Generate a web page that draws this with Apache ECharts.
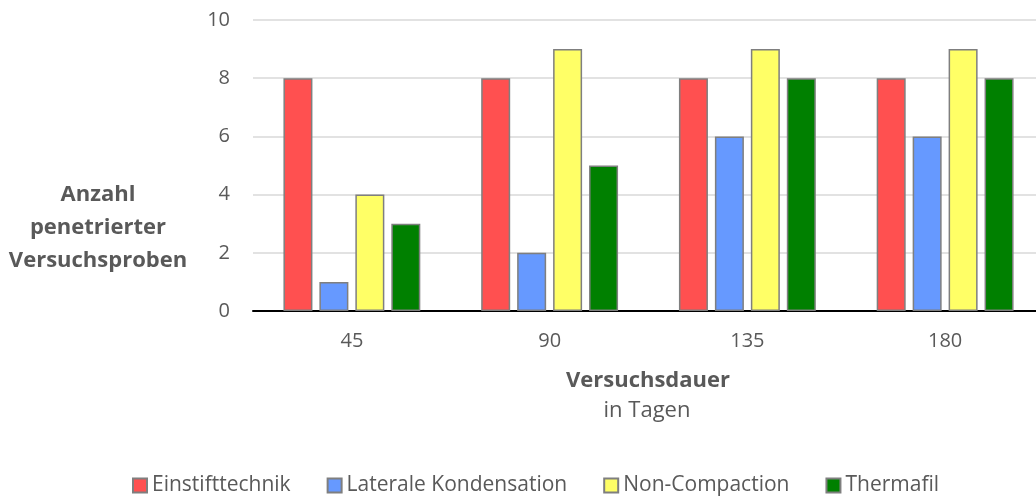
<!DOCTYPE html>
<html>
<head>
<meta charset="utf-8">
<script src="https://cdn.jsdelivr.net/npm/echarts@6/dist/echarts.min.js"></script>
<style>
  html, body { margin: 0; padding: 0; background: #fff; }
  #chart { width: 1036px; height: 496px; }
</style>
</head>
<body>
<div id="chart"></div>
<script>
// Daten aus dem Diagramm
const categories = ['45', '90', '135', '180']
const einstift = [8, 8, 8, 8]
const lateral = [1, 2, 6, 6]
const nonCompaction = [4, 9, 9, 9]
const thermafil = [3, 5, 8, 8]
const yTicks = [0, 2, 4, 6, 8, 10]

const font = '"Open Sans", "Liberation Sans", sans-serif'
const textColor = '#595959'

const barBase = {
  type: 'bar',
  barWidth: 29,
  barGap: '24%',
  itemStyle: { borderColor: '#7f7f7f', borderWidth: 1.5 },
}

const option = {
  backgroundColor: '#fff',
  animation: false,
  textStyle: { fontFamily: font },
  // Plotfläche ragt rechts etwas über den Rand hinaus
  grid: { left: 253, width: 791, top: 20, height: 291, outerBoundsMode: 'none', containLabel: false },
  legend: {
    left: 127,
    top: 470,
    itemWidth: 14,
    itemHeight: 14,
    itemGap: 36,
    icon: 'rect',
    textStyle: { color: textColor, fontSize: 21, fontFamily: font },
    data: ['Einstifttechnik', 'Laterale Kondensation', 'Non-Compaction', 'Thermafil'],
  },
  xAxis: {
    type: 'category',
    data: categories,
    axisLine: { lineStyle: { color: '#000', width: 2 } },
    axisTick: { show: false },
    axisLabel: { color: textColor, fontSize: 20, margin: 20, fontFamily: font },
  },
  yAxis: {
    type: 'value',
    min: yTicks[0],
    max: yTicks[yTicks.length - 1],
    interval: 2,
    axisLine: { show: false },
    axisTick: { show: false },
    axisLabel: { color: textColor, fontSize: 20, margin: 23, fontFamily: font },
    splitLine: { lineStyle: { color: '#d9d9d9', width: 1.5 } },
  },
  graphic: [
    {
      type: 'text',
      x: 98,
      y: 228,
      style: {
        text: 'Anzahl\npenetrierter\nVersuchsproben',
        fill: textColor,
        font: 'bold 22px ' + font,
        align: 'center',
        verticalAlign: 'middle',
        lineHeight: 33,
      },
    },
    {
      type: 'text',
      x: 648,
      y: 381,
      style: {
        text: 'Versuchsdauer',
        fill: textColor,
        font: 'bold 22px ' + font,
        align: 'center',
        verticalAlign: 'middle',
      },
    },
    {
      type: 'text',
      x: 647,
      y: 411,
      style: {
        text: 'in Tagen',
        fill: textColor,
        font: '22px ' + font,
        align: 'center',
        verticalAlign: 'middle',
      },
    },
  ],
  series: [
    { ...barBase, name: 'Einstifttechnik', data: einstift, itemStyle: { ...barBase.itemStyle, color: '#ff5050' } },
    { ...barBase, name: 'Laterale Kondensation', data: lateral, itemStyle: { ...barBase.itemStyle, color: '#6699ff' } },
    { ...barBase, name: 'Non-Compaction', data: nonCompaction, itemStyle: { ...barBase.itemStyle, color: '#ffff66' } },
    { ...barBase, name: 'Thermafil', data: thermafil, itemStyle: { ...barBase.itemStyle, color: '#008000' } },
  ],
}

const chart = echarts.init(document.getElementById('chart'))
chart.setOption(option)
window.addEventListener('resize', () => chart.resize())
</script>
</body>
</html>
